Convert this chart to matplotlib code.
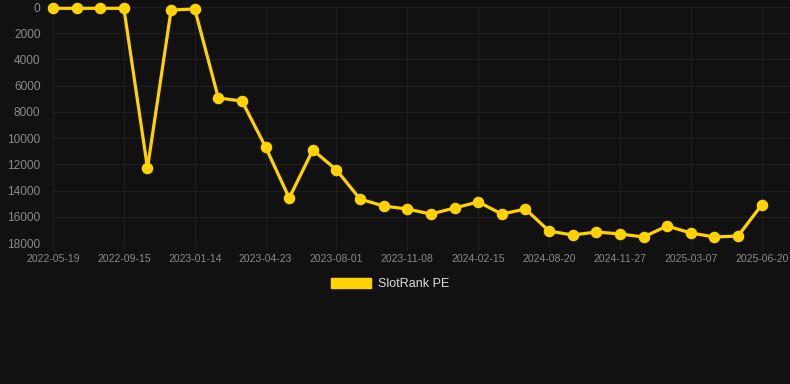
import matplotlib
matplotlib.use("Agg")
import matplotlib.pyplot as plt
from matplotlib.patches import Patch

plt.rcParams["font.family"] = ["Liberation Sans", "DejaVu Sans"]

dates = [
    "2022-05-19", "2022-06-28", "2022-08-07", "2022-09-15", "2022-10-25", "2022-12-04",
    "2023-01-14", "2023-02-16", "2023-03-21", "2023-04-23", "2023-05-26", "2023-06-29",
    "2023-08-01", "2023-09-03", "2023-10-06", "2023-11-08", "2023-12-11", "2024-01-13",
    "2024-02-15", "2024-04-17", "2024-06-18", "2024-08-20", "2024-09-22", "2024-10-25",
    "2024-11-27", "2024-12-30", "2025-02-02", "2025-03-07", "2025-04-11", "2025-05-16",
    "2025-06-20",
]
rank = [
    100, 100, 100, 100, 12280, 230,
    150, 6940, 7170, 10680, 14570, 10900,
    12430, 14650, 15180, 15410, 15790, 15330,
    14870, 15790, 15410, 17090, 17390, 17160,
    17310, 17540, 16700, 17240, 17540, 17470,
    15100,
]
series_name = "SlotRank PE"
y_ticks = [0, 2000, 4000, 6000, 8000, 10000, 12000, 14000, 16000, 18000]

BG = "#111111"
GRID = "#1f1f1f"
TXT = "#8a8a8a"
GOLD = "#FFD200"

fig = plt.figure(figsize=(7.9, 3.84), dpi=100, facecolor=BG)
ax = fig.add_axes([53 / 790, 1 - 243 / 384, 1 - 53 / 790, (243 - 7) / 384])
ax.set_facecolor(BG)

x = list(range(len(dates)))
ax.plot(x, rank, color=GOLD, lw=2.3, marker="o", ms=7.3, mfc=GOLD, mec=GOLD,
        solid_joinstyle="round", zorder=3, clip_on=False)

ax.set_ylim(18000, 0)
ax.set_yticks(y_ticks)
ax.set_yticklabels([str(v) for v in y_ticks])
ax.set_xlim(0, 31.2)
tick_idx = list(range(0, len(dates), 3))
ax.set_xticks(tick_idx)
ax.set_xticklabels([dates[i] for i in tick_idx])

ax.grid(True, color=GRID, lw=0.8)
ax.set_axisbelow(True)
for s in ax.spines.values():
    s.set_visible(False)
ax.axhline(18000, color="#2c2c2c", lw=0.9, zorder=1)

ax.tick_params(axis="y", length=0, pad=9, labelsize=8.6, labelcolor=TXT)
ax.tick_params(axis="x", length=5, color=GRID, pad=3, labelsize=7.5, labelcolor=TXT)

fig.legend(handles=[Patch(facecolor=GOLD, edgecolor=GOLD, label=series_name)],
           loc="center", bbox_to_anchor=(390 / 790, 1 - 284 / 384), frameon=False,
           fontsize=9, labelcolor="#dddddd", handlelength=3.2, handleheight=0.95,
           handletextpad=0.5)

fig.savefig("out.png", dpi=100, facecolor=BG)
